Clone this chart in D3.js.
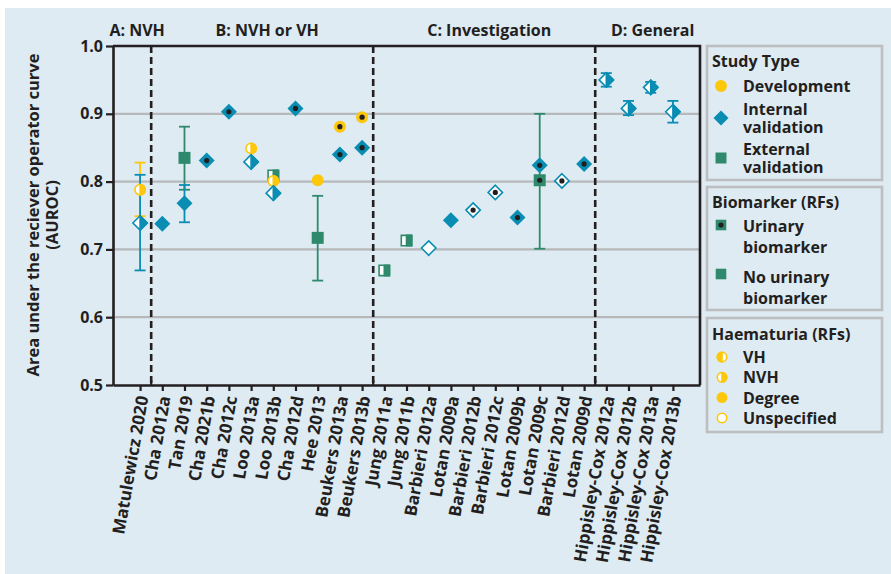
<!DOCTYPE html>
<html>
<head>
<meta charset="utf-8">
<script src="https://cdn.jsdelivr.net/npm/d3@7/dist/d3.min.js"></script>
<style>
    html, body { margin: 0; padding: 0; background: #fff; }
    svg text { font-family: "Open Sans", Roboto, sans-serif; font-weight: 700; fill: #231f20; }
</style>
</head>
<body>
<svg id="chart" width="891" height="574"></svg>
<script>
    // studies along the x axis
    var studies = ["Matulewicz 2020", "Cha 2012a", "Tan 2019", "Cha 2021b", "Cha 2012c", "Loo 2013a",
        "Loo 2013b", "Cha 2012d", "Hee 2013", "Beukers 2013a", "Beukers 2013b",
        "Jung 2011a", "Jung 2011b", "Barbieri 2012a", "Lotan 2009a", "Barbieri 2012b", "Barbieri 2012c",
        "Lotan 2009b", "Lotan 2009c", "Barbieri 2012d", "Lotan 2009d",
        "Hippisley-Cox 2012a", "Hippisley-Cox 2012b", "Hippisley-Cox 2013a", "Hippisley-Cox 2013b"];

    // sections: label + last study of each one
    var sectionLabels = ["A: NVH", "B: NVH or VH", "C: Investigation", "D: General"];
    var sectionLast = ["Matulewicz 2020", "Beukers 2013b", "Lotan 2009d", "Hippisley-Cox 2013b"];

    var yTicks = [0.5, 0.6, 0.7, 0.8, 0.9, 1.0];

    // study, type (dev/int/ext), haematuria (vh/nvh/deg/uns), urinary biomarker, AUROC, lo, hi
    var estimates = [
        ["Matulewicz 2020", "dev", "nvh", false, 0.788, 0.749, 0.828],
        ["Matulewicz 2020", "int", "nvh", false, 0.739, 0.669, 0.810],
        ["Cha 2012a", "int", "deg", false, 0.738],
        ["Tan 2019", "ext", "deg", false, 0.835, 0.788, 0.881],
        ["Tan 2019", "int", "deg", false, 0.768, 0.740, 0.795],
        ["Cha 2021b", "int", "deg", true, 0.831],
        ["Cha 2012c", "int", "deg", true, 0.903],
        ["Loo 2013a", "dev", "nvh", false, 0.849],
        ["Loo 2013a", "int", "nvh", false, 0.829],
        ["Loo 2013b", "ext", "nvh", false, 0.809],
        ["Loo 2013b", "dev", "nvh", false, 0.801],
        ["Loo 2013b", "int", "nvh", false, 0.783],
        ["Cha 2012d", "int", "deg", true, 0.908],
        ["Hee 2013", "dev", "deg", false, 0.802],
        ["Hee 2013", "ext", "deg", false, 0.717, 0.654, 0.779],
        ["Beukers 2013a", "dev", "deg", true, 0.881],
        ["Beukers 2013a", "int", "deg", true, 0.840],
        ["Beukers 2013b", "dev", "deg", true, 0.895],
        ["Beukers 2013b", "int", "deg", true, 0.850],
        ["Jung 2011a", "ext", "nvh", false, 0.669],
        ["Jung 2011b", "ext", "nvh", false, 0.713],
        ["Barbieri 2012a", "int", "uns", false, 0.702],
        ["Lotan 2009a", "int", "deg", false, 0.743],
        ["Barbieri 2012b", "int", "uns", true, 0.758],
        ["Barbieri 2012c", "int", "uns", true, 0.784],
        ["Lotan 2009b", "int", "deg", true, 0.747],
        ["Lotan 2009c", "int", "deg", true, 0.824],
        ["Lotan 2009c", "ext", "deg", true, 0.802, 0.701, 0.900],
        ["Barbieri 2012d", "int", "uns", true, 0.801],
        ["Lotan 2009d", "int", "deg", true, 0.826],
        ["Hippisley-Cox 2012a", "int", "nvh", false, 0.950, 0.940, 0.960],
        ["Hippisley-Cox 2012b", "int", "nvh", false, 0.908, 0.898, 0.919],
        ["Hippisley-Cox 2013a", "int", "nvh", false, 0.939, 0.931, 0.947],
        ["Hippisley-Cox 2013b", "int", "nvh", false, 0.903, 0.887, 0.919]
    ];

    // legend entries
    var legendType = [["dev", ["Development"]], ["int", ["Internal", "validation"]], ["ext", ["External", "validation"]]];
    var legendBio = [[true, ["Urinary", "biomarker"]], [false, ["No urinary", "biomarker"]]];
    var legendHaem = [["vh", "VH"], ["nvh", "NVH"], ["deg", "Degree"], ["uns", "Unspecified"]];

    var colors = {dev: "#fdc70c", int: "#0a8db3", ext: "#2f8a6d"};
    var ink = "#231f20";

    var svg = d3.select("#chart");
    var plot = {left: 113, right: 700, top: 46, bottom: 385};

    var x = d3.scalePoint().domain(studies).range([plot.left, plot.right]).padding(1.22);
    var y = d3.scaleLinear().domain([0.5, 1.0]).range([plot.bottom, plot.top]);

    // background
    svg.append("rect").attr("x", 5).attr("y", 8).attr("width", 886).attr("height", 566).attr("fill", "#deebf3");

    // grid
    svg.append("g").selectAll("line").data(yTicks.filter(function (d) { return d > 0.5 && d < 1; }))
        .enter().append("line")
        .attr("x1", plot.left).attr("x2", plot.right)
        .attr("y1", function (d) { return y(d); }).attr("y2", function (d) { return y(d); })
        .attr("stroke", "#b6b8ba").attr("stroke-width", 2.2);

    // section dividers
    var dividers = [];
    sectionLast.forEach(function (s, i) {
        if (i < sectionLast.length - 1) {
            var idx = studies.indexOf(s);
            dividers.push((x(studies[idx]) + x(studies[idx + 1])) / 2);
        }
    });
    svg.append("g").selectAll("line").data(dividers).enter().append("line")
        .attr("x1", function (d) { return d; }).attr("x2", function (d) { return d; })
        .attr("y1", plot.top).attr("y2", plot.bottom)
        .attr("stroke", ink).attr("stroke-width", 2.6).attr("stroke-dasharray", "7,4");

    // section labels
    var bounds = [plot.left].concat(dividers).concat([plot.right]);
    svg.append("g").selectAll("text").data(sectionLabels).enter().append("text")
        .attr("x", function (d, i) { return (bounds[i] + bounds[i + 1]) / 2 + 5; })
        .attr("y", 36).attr("text-anchor", "middle").style("font-size", "16px")
        .text(function (d) { return d; });

    // frame top / right
    svg.append("path")
        .attr("d", "M" + plot.left + "," + plot.top + "H" + plot.right + "V" + plot.bottom)
        .attr("fill", "none").attr("stroke", ink).attr("stroke-width", 2.6);

    // axes
    var yAxis = svg.append("g").attr("transform", "translate(" + plot.left + ",0)")
        .call(d3.axisLeft(y).tickValues(yTicks).tickFormat(d3.format(".1f")).tickSize(7).tickSizeOuter(0));
    yAxis.select(".domain").attr("stroke", ink).attr("stroke-width", 2.6);
    yAxis.selectAll(".tick line").attr("stroke", ink).attr("stroke-width", 2.2);
    yAxis.selectAll(".tick text").style("font-size", "16px").style("font-family", null).attr("fill", ink).attr("x", -10);

    var xAxis = svg.append("g").attr("transform", "translate(0," + plot.bottom + ")")
        .call(d3.axisBottom(x).tickSize(6).tickSizeOuter(0));
    xAxis.select(".domain").attr("stroke", ink).attr("stroke-width", 2.6);
    xAxis.selectAll(".tick line").attr("stroke", ink).attr("stroke-width", 2.2);
    xAxis.selectAll(".tick text")
        .style("font-size", "17px").style("font-family", null).attr("fill", ink)
        .attr("text-anchor", "end")
        .attr("x", 0).attr("y", 0).attr("dy", "0.35em")
        .attr("transform", "translate(2,11) rotate(-80)");
    // small ticks where the dividers meet the axis
    svg.append("g").selectAll("line").data(dividers).enter().append("line")
        .attr("x1", function (d) { return d; }).attr("x2", function (d) { return d; })
        .attr("y1", plot.bottom - 5).attr("y2", plot.bottom)
        .attr("stroke", ink).attr("stroke-width", 2.2);

    // y title
    svg.append("text").attr("transform", "translate(39,215) rotate(-90)")
        .attr("text-anchor", "middle").style("font-size", "16.5px")
        .text("Area under the reciever operator curve");
    svg.append("text").attr("transform", "translate(58,215) rotate(-90)")
        .attr("text-anchor", "middle").style("font-size", "16.5px")
        .text("(AUROC)");

    // marker shapes
    function shapePath(type, side, s) {
        if (type === "dev") {
            if (side === "full") return "M" + (-s) + ",0A" + s + "," + s + " 0 1,1 " + s + ",0A" + s + "," + s + " 0 1,1 " + (-s) + ",0Z";
            var dir = side === "right" ? 1 : 0;
            return "M0," + (-s) + "A" + s + "," + s + " 0 0," + dir + " 0," + s + "Z";
        }
        if (type === "int") {
            if (side === "full") return "M0," + (-s) + "L" + s + ",0L0," + s + "L" + (-s) + ",0Z";
            var k = side === "right" ? s : -s;
            return "M0," + (-s) + "L" + k + ",0L0," + s + "Z";
        }
        if (side === "full") return "M" + (-s) + "," + (-s) + "H" + s + "V" + s + "H" + (-s) + "Z";
        var e = side === "right" ? s : -s;
        return "M0," + (-s) + "H" + e + "V" + s + "H0Z";
    }
    var sizes = {dev: 6, int: 8, ext: 6};

    function drawMarker(g, type, haem, urinary, s) {
        var c = colors[type];
        s = s || sizes[type];
        if (haem === "deg") {
            g.append("path").attr("d", shapePath(type, "full", s)).attr("fill", c);
        } else {
            var inset = s - 0.8;
            g.append("path").attr("d", shapePath(type, "full", inset)).attr("fill", "#fff")
                .attr("stroke", c).attr("stroke-width", 1.6);
            if (haem === "nvh" || haem === "vh") {
                g.append("path").attr("d", shapePath(type, haem === "nvh" ? "right" : "left", inset)).attr("fill", c)
                    .attr("stroke", c).attr("stroke-width", 1.6).attr("stroke-linejoin", "round");
            }
        }
        if (urinary) {
            g.append("circle").attr("r", 2.6).attr("fill", ink);
        }
    }

    // error bars
    var bars = estimates.filter(function (d) { return d.length > 5; });
    var eb = svg.append("g").selectAll("g").data(bars).enter().append("g")
        .attr("transform", function (d) { return "translate(" + x(d[0]) + ",0)"; })
        .attr("stroke", function (d) { return colors[d[1]]; }).attr("stroke-width", 1.8);
    eb.append("line").attr("y1", function (d) { return y(d[5]); }).attr("y2", function (d) { return y(d[6]); });
    eb.append("line").attr("x1", -5.5).attr("x2", 5.5).attr("y1", function (d) { return y(d[5]); }).attr("y2", function (d) { return y(d[5]); });
    eb.append("line").attr("x1", -5.5).attr("x2", 5.5).attr("y1", function (d) { return y(d[6]); }).attr("y2", function (d) { return y(d[6]); });

    // points
    svg.append("g").selectAll("g").data(estimates).enter().append("g")
        .attr("transform", function (d) { return "translate(" + x(d[0]) + "," + y(d[4]) + ")"; })
        .each(function (d) { drawMarker(d3.select(this), d[1], d[2], d[3]); });

    // legend
    var lg = svg.append("g");
    function box(y0, h) {
        lg.append("rect").attr("x", 707).attr("y", y0).attr("width", 175).attr("height", h)
            .attr("fill", "none").attr("stroke", "#bcbec0").attr("stroke-width", 2.6);
    }
    function label(lines, y0, gap) {
        var t = lg.append("text").attr("x", 743).attr("y", y0).style("font-size", "16px");
        lines.forEach(function (l, i) {
            t.append("tspan").attr("x", 743).attr("y", y0 + i * gap).text(l);
        });
    }
    function title(txt, y0) {
        lg.append("text").attr("x", 712).attr("y", y0).style("font-size", "16px").text(txt);
    }

    box(46, 134);
    title("Study Type", 67);
    var typeY = [[86, 92], [118, 115], [158, 155]];
    legendType.forEach(function (d, i) {
        var g = lg.append("g").attr("transform", "translate(721," + typeY[i][0] + ")");
        drawMarker(g, d[0], "deg", false, d[0] === "ext" ? 5.5 : (d[0] === "int" ? 7.5 : 6));
        label(d[1], typeY[i][1], 17.5);
    });

    box(187, 123);
    title("Biomarker (RFs)", 208);
    var bioY = [[225, 232], [274, 283]];
    legendBio.forEach(function (d, i) {
        var g = lg.append("g").attr("transform", "translate(721," + bioY[i][0] + ")");
        drawMarker(g, "ext", "deg", d[0], 5.3);
        label(d[1], bioY[i][1], 21);
    });

    box(318, 114);
    title("Haematuria (RFs)", 340);
    legendHaem.forEach(function (d, i) {
        var cy = 357 + i * 20.3;
        var g = lg.append("g").attr("transform", "translate(722," + cy + ")");
        drawMarker(g, "dev", d[0], false, 5.5);
        label([d[1]], cy + 6, 0);
    });
</script>
</body>
</html>
